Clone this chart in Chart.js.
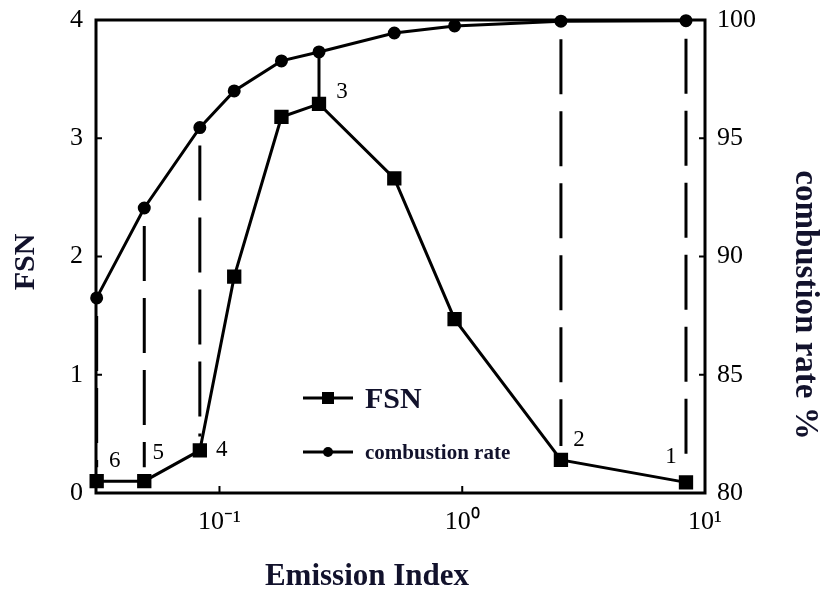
<!DOCTYPE html>
<html lang="en">
<head>
<meta charset="UTF-8">
<title>FSN and combustion rate vs emission index</title>
<script src="https://cdn.jsdelivr.net/npm/chart.js"></script>
<style>
  html, body { margin: 0; padding: 0; background: #fff; }
</style>
</head>
<body>
<canvas id="myChart" width="824" height="590"></canvas>
<script>
// emission index (log axis), shared by both curves
const emissionIndex = [0.0312, 0.049, 0.083, 0.115, 0.18, 0.257, 0.525, 0.93, 2.55, 8.35];
const fsn = [0.1, 0.1, 0.36, 1.83, 3.18, 3.29, 2.66, 1.47, 0.28, 0.09];
const combustionRate = [88.25, 92.05, 95.45, 97.0, 98.27, 98.65, 99.45, 99.75, 99.95, 99.97];
// operating point numbers next to some FSN squares
const pointNumbers = ['6', '5', '4', '', '', '3', '', '', '2', '1'];
const dashedLinks = [0, 1, 2, 8, 9];
const solidLinks = [5];
const xTicks = [0.1, 1, 10];
const xTickLabels = ['10⁻¹', '10⁰', '10¹'];
const fsnTicks = [0, 1, 2, 3, 4];
const rateTicks = [80, 85, 90, 95, 100];

const serif = '"Liberation Serif", "Times New Roman", serif';
const titleColor = '#12122c';

// label offsets from the square, in px
const numberOffsets = {
  0: [18, -20], 1: [14, -28], 2: [22, 0], 5: [23, -12], 8: [18, -20], 9: [-15, -25]
};

const extras = {
  id: 'extras',
  afterDatasetsDraw(chart) {
    const ctx = chart.ctx;
    const xs = chart.scales.x, ys = chart.scales.y, yr = chart.scales.y1;
    const a = chart.chartArea;
    ctx.save();

    // links from circle to square
    ctx.strokeStyle = '#000';
    ctx.lineWidth = 3;
    ctx.setLineDash([55, 17]);
    dashedLinks.forEach(i => {
      const px = xs.getPixelForValue(emissionIndex[i]);
      ctx.beginPath();
      ctx.moveTo(px, yr.getPixelForValue(combustionRate[i]) + 18);
      ctx.lineTo(px, ys.getPixelForValue(fsn[i]) - 14);
      ctx.stroke();
    });
    ctx.setLineDash([]);
    solidLinks.forEach(i => {
      const px = xs.getPixelForValue(emissionIndex[i]);
      ctx.beginPath();
      ctx.moveTo(px, yr.getPixelForValue(combustionRate[i]));
      ctx.lineTo(px, ys.getPixelForValue(fsn[i]));
      ctx.stroke();
    });

    // frame
    ctx.lineWidth = 3;
    ctx.strokeRect(a.left, a.top, a.right - a.left, a.bottom - a.top);

    // inward tick marks
    ctx.lineWidth = 2;
    ctx.beginPath();
    fsnTicks.slice(1, -1).forEach(v => {
      const py = ys.getPixelForValue(v);
      ctx.moveTo(a.left, py); ctx.lineTo(a.left + 6, py);
    });
    rateTicks.slice(1, -1).forEach(v => {
      const py = yr.getPixelForValue(v);
      ctx.moveTo(a.right - 6, py); ctx.lineTo(a.right, py);
    });
    xTicks.slice(0, -1).forEach(v => {
      const px = xs.getPixelForValue(v);
      ctx.moveTo(px, a.bottom); ctx.lineTo(px, a.bottom - 7);
    });
    ctx.stroke();

    // point numbers
    ctx.fillStyle = '#000';
    ctx.font = '23px ' + serif;
    ctx.textAlign = 'center';
    ctx.textBaseline = 'middle';
    pointNumbers.forEach((t, i) => {
      if (!t) return;
      const o = numberOffsets[i];
      ctx.fillText(t, xs.getPixelForValue(emissionIndex[i]) + o[0], ys.getPixelForValue(fsn[i]) + o[1]);
    });

    // legend inside the plot
    const rows = [
      { ds: chart.data.datasets[0], y: 398, font: 'bold 30px ' + serif },
      { ds: chart.data.datasets[1], y: 452, font: 'bold 21px ' + serif }
    ];
    rows.forEach(r => {
      ctx.lineWidth = 3;
      ctx.beginPath();
      ctx.moveTo(303, r.y); ctx.lineTo(353, r.y);
      ctx.stroke();
      if (r.ds.pointStyle === 'rect') {
        ctx.fillRect(322, r.y - 6, 12, 12);
      } else {
        ctx.beginPath(); ctx.arc(328, r.y, 5, 0, Math.PI * 2); ctx.fill();
      }
      ctx.fillStyle = titleColor;
      ctx.font = r.font;
      ctx.textAlign = 'left';
      ctx.fillText(r.ds.label, 365, r.y + 2);
      ctx.fillStyle = '#000';
    });

    // axis titles
    ctx.fillStyle = titleColor;
    ctx.textAlign = 'center';
    ctx.font = 'bold 31px ' + serif;
    ctx.fillText('Emission Index', 367, 577);
    ctx.save();
    ctx.translate(26, 262);
    ctx.rotate(-Math.PI / 2);
    ctx.font = 'bold 30px ' + serif;
    ctx.fillText('FSN', 0, 0);
    ctx.restore();
    ctx.save();
    ctx.translate(805, 305);
    ctx.rotate(Math.PI / 2);
    ctx.font = 'bold 33px ' + serif;
    ctx.fillText('combustion rate %', 0, 0);
    ctx.restore();

    ctx.restore();
  }
};

const tickFont = { family: serif, size: 26 };

// fixed box sizes so the plot frame lands where the original has it
function fixBox(size, key) {
  return s => {
    s[key] = size;
    s.paddingTop = 0; s.paddingBottom = 0; s.paddingLeft = 0; s.paddingRight = 0;
  };
}

new Chart(document.getElementById('myChart').getContext('2d'), {
  type: 'line',
  data: {
    datasets: [
      {
        label: 'FSN',
        data: emissionIndex.map((x, i) => ({ x: x, y: fsn[i] })),
        yAxisID: 'y',
        borderColor: '#000',
        backgroundColor: '#000',
        borderWidth: 3,
        pointStyle: 'rect',
        pointRadius: 8,
        tension: 0,
        clip: false
      },
      {
        label: 'combustion rate',
        data: emissionIndex.map((x, i) => ({ x: x, y: combustionRate[i] })),
        yAxisID: 'y1',
        borderColor: '#000',
        backgroundColor: '#000',
        borderWidth: 3,
        pointStyle: 'circle',
        pointRadius: 5,
        tension: 0,
        clip: false
      }
    ]
  },
  options: {
    responsive: false,
    animation: false,
    layout: { padding: { top: 20, left: 0, right: 0, bottom: 0 } },
    plugins: { legend: { display: false }, tooltip: { enabled: false } },
    scales: {
      x: {
        type: 'logarithmic',
        min: 0.031,
        max: 10,
        grid: { display: false },
        border: { display: false },
        afterBuildTicks: s => { s.ticks = xTicks.map(v => ({ value: v })); },
        afterFit: fixBox(97, 'height'),
        ticks: {
          font: tickFont, color: '#000', padding: 6, maxRotation: 0, autoSkip: false,
          callback: v => xTickLabels[xTicks.indexOf(v)] || ''
        }
      },
      y: {
        position: 'left',
        min: 0,
        max: 4,
        grid: { display: false },
        border: { display: false },
        afterBuildTicks: s => { s.ticks = fsnTicks.map(v => ({ value: v })); },
        afterFit: fixBox(96, 'width'),
        ticks: { font: tickFont, color: '#000', padding: 5 }
      },
      y1: {
        position: 'right',
        min: 80,
        max: 100,
        grid: { display: false },
        border: { display: false },
        afterBuildTicks: s => { s.ticks = rateTicks.map(v => ({ value: v })); },
        afterFit: fixBox(119, 'width'),
        ticks: { font: tickFont, color: '#000', padding: 4 }
      }
    }
  },
  plugins: [extras]
});
</script>
</body>
</html>
